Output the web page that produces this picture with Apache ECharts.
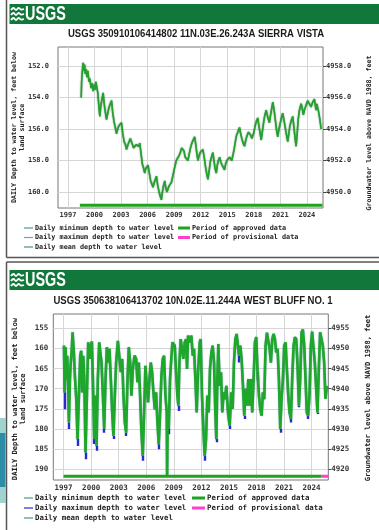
<!DOCTYPE html>
<html><head><meta charset="utf-8">
<script src="https://cdn.jsdelivr.net/npm/echarts@6/dist/echarts.min.js"></script>
<style>html,body{margin:0;padding:0;background:#fff}#c{width:379px;height:530px}</style>
</head><body><div id="c"></div><script>
// ---------------- DATA ----------------
const title1 = 'USGS 350910106414802 11N.03E.26.243A SIERRA VISTA';
const title2 = 'USGS 350638106413702 10N.02E.11.244A WEST BLUFF NO. 1';
const yearTicks = [1997, 2000, 2003, 2006, 2009, 2012, 2015, 2018, 2021, 2024];
const depthTicks1 = [152, 154, 156, 158, 160];
const elevTicks1 = [4950, 4952, 4954, 4956, 4958];
const depthTicks2 = [155, 160, 165, 170, 175, 180, 185, 190];
const elevTicks2 = [4920, 4925, 4930, 4935, 4940, 4945, 4950, 4955];
const landSurface = 5110;
const legendLeft = ['Daily minimum depth to water level', 'Daily maximum depth to water level', 'Daily mean depth to water level'];
const legendRight = ['Period of approved data', 'Period of provisional data'];
const leftTitle = ['DAILY Depth to water level, feet below', 'land surface'];
const rightTitle = 'Groundwater level above NAVD 1988, feet';

// Sierra Vista: daily mean depth (ft below land surface)
const years1 = [1998.50,1998.55,1998.62,1998.72,1998.80,1998.88,1998.96,1999.05,1999.15,1999.25,1999.38,1999.48,1999.62,1999.75,1999.85,1999.95,
2000.06,2000.16,2000.28,2000.38,2000.50,2000.61,2000.72,2000.85,2000.98,2001.10,2001.22,2001.36,2001.50,2001.65,2001.80,2001.93,
2002.05,2002.20,2002.35,2002.49,2002.62,2002.76,2002.90,2003.05,2003.20,2003.35,2003.50,2003.62,2003.78,2003.95,2004.05,2004.18,
2004.30,2004.42,2004.55,2004.70,2004.85,2005.00,2005.12,2005.25,2005.40,2005.55,2005.68,2005.80,2005.95,2006.05,2006.20,2006.35,
2006.50,2006.62,2006.75,2006.88,2007.00,2007.15,2007.30,2007.45,2007.56,2007.68,2007.80,2007.94,2008.05,2008.18,2008.31,2008.45,
2008.58,2008.69,2008.85,2009.00,2009.12,2009.25,2009.40,2009.55,2009.70,2009.85,2010.00,2010.12,2010.25,2010.40,2010.56,2010.70,
2010.85,2011.00,2011.15,2011.32,2011.45,2011.58,2011.69,2011.82,2011.95,2012.10,2012.25,2012.40,2012.55,2012.70,2012.82,2012.95,
2013.08,2013.22,2013.38,2013.50,2013.62,2013.76,2013.88,2014.00,2014.14,2014.28,2014.42,2014.56,2014.70,2014.83,2014.96,2015.10,
2015.26,2015.40,2015.52,2015.64,2015.78,2015.92,2016.05,2016.20,2016.39,2016.52,2016.65,2016.80,2016.95,2017.10,2017.25,2017.40,
2017.52,2017.65,2017.78,2017.89,2018.02,2018.15,2018.30,2018.45,2018.58,2018.72,2018.84,2018.96,2019.08,2019.22,2019.40,2019.52,
2019.65,2019.77,2019.90,2020.02,2020.15,2020.30,2020.45,2020.58,2020.71,2020.85,2021.00,2021.12,2021.27,2021.40,2021.55,2021.70,
2021.84,2021.96,2022.08,2022.22,2022.40,2022.52,2022.65,2022.78,2022.90,2023.02,2023.16,2023.35,2023.48,2023.60,2023.72,2023.90,
2024.09,2024.28,2024.47,2024.65,2024.85,2025.03,2025.12,2025.22,2025.32,2025.41,2025.52,2025.60];
const depth1 = [154.0,153.0,152.4,151.8,152.3,151.9,152.5,152.2,152.7,152.3,153.0,152.8,153.4,153.1,153.6,153.2,
153.5,153.0,153.4,153.7,154.6,155.2,154.5,154.1,153.7,154.4,154.9,155.4,155.0,154.6,154.5,154.2,
154.9,155.5,155.9,156.3,156.0,155.8,155.9,155.6,156.3,156.8,157.0,157.3,157.0,156.9,156.6,156.7,
157.0,157.2,157.3,157.0,156.9,157.1,156.9,157.5,158.2,158.5,158.8,158.5,158.5,158.3,158.8,159.3,
159.4,159.7,159.4,159.2,159.0,159.6,160.0,160.3,160.5,160.0,159.6,159.3,159.7,160.0,160.1,159.6,
159.5,159.4,159.0,158.6,158.3,158.0,158.1,157.7,157.5,157.2,157.1,157.4,157.8,157.9,158.0,157.6,
157.2,156.9,156.7,156.5,157.0,157.6,158.0,157.7,157.5,157.4,157.3,157.8,158.4,158.9,159.2,158.7,
158.1,157.8,157.5,158.0,158.5,158.8,158.3,158.0,157.8,158.1,158.3,158.4,158.6,158.2,158.0,157.9,
157.8,157.9,158.0,158.0,157.3,156.8,156.4,156.2,155.9,156.3,156.6,156.9,157.1,156.7,156.4,156.2,
156.1,156.4,156.6,156.7,156.2,155.8,155.5,155.3,155.8,156.3,156.7,156.2,155.7,155.2,154.8,155.1,
155.4,155.6,155.1,154.7,154.3,154.8,155.5,156.1,156.5,156.0,155.6,155.3,155.0,155.4,155.9,156.4,
156.8,156.3,155.8,155.5,155.2,155.8,156.5,157.1,156.3,155.4,154.8,154.4,154.7,155.1,154.8,154.5,
154.2,154.4,154.6,154.3,154.1,154.8,154.4,154.35,154.9,155.2,155.6,156.0];
const approved1 = [1998.35, 2025.75];

// West Bluff: daily mean depth (ft below land surface)
const years2 = [1997.04,1997.11,1997.22,1997.29,1997.40,1997.51,1997.58,1997.69,1997.76,1997.87,1997.98,1998.05,1998.12,1998.23,1998.38,1998.52,
1998.67,1998.81,1998.92,1999.03,1999.14,1999.25,1999.39,1999.54,1999.68,1999.83,1999.97,2000.08,2000.19,2000.33,2000.44,2000.59,
2000.73,2000.88,2001.02,2001.13,2001.28,2001.42,2001.57,2001.71,2001.86,2002.00,2002.14,2002.29,2002.43,2002.58,2002.72,2002.91,
2003.09,2003.23,2003.38,2003.52,2003.67,2003.81,2003.96,2004.10,2004.25,2004.39,2004.54,2004.72,2004.90,2005.04,2005.19,2005.33,
2005.48,2005.62,2005.77,2005.91,2006.06,2006.20,2006.35,2006.49,2006.64,2006.78,2006.93,2007.07,2007.22,2007.36,2007.51,2007.65,
2007.80,2007.94,2008.09,2008.23,2008.27,2008.34,2008.45,2008.59,2008.70,2008.85,2008.96,2009.10,2009.25,2009.39,2009.50,2009.61,
2009.75,2009.90,2010.04,2010.19,2010.33,2010.44,
2010.55,2010.73,2010.91,2011.06,2011.20,2011.35,2011.49,2011.64,2011.82,2011.93,2012.07,2012.22,2012.36,2012.51,2012.65,2012.80,
2012.94,2013.09,2013.23,2013.38,2013.52,2013.63,2013.74,2013.85,2013.99,2014.14,2014.28,2014.43,2014.57,2014.72,2014.90,2015.08,
2015.26,2015.41,2015.55,2015.70,2015.84,2015.98,2016.09,2016.24,2016.38,2016.53,2016.67,2016.82,2016.96,2017.11,2017.25,2017.40,
2017.54,2017.69,2017.83,2017.98,2018.12,2018.27,2018.41,2018.56,2018.70,2018.85,2018.99,2019.14,2019.28,2019.43,2019.57,2019.72,
2019.86,2020.01,2020.15,2020.30,2020.44,2020.59,2020.73,2020.88,2021.02,2021.17,2021.31,2021.46,2021.60,2021.75,2021.89,2022.04,
2022.18,2022.33,2022.47,2022.62,2022.76,2022.91,2023.05,2023.20,2023.34,2023.48,2023.63,2023.77,2023.92,2024.06,2024.21,2024.35,
2024.50,2024.64,2024.79,2024.93,2025.08,2025.22,2025.37,2025.51,2025.66];
const depth2 = [159.3,170.9,159.7,167.6,161.8,170.9,178.4,167.6,164.3,161.0,156.0,155.6,161.0,166.8,172.6,182.5,
171.7,161.8,160.6,170.9,161.8,167.6,185.8,171.7,158.5,162.6,159.3,158.3,167.6,182.5,171.7,184.2,
167.6,158.5,158.1,163.5,171.7,180.0,167.6,159.7,163.5,160.1,167.6,175.9,181.7,171.7,163.5,158.1,
158.5,165.9,162.6,171.7,178.4,180.9,167.6,159.7,163.5,171.7,165.1,161.8,162.6,168.4,163.5,171.7,
180.9,186.7,175.9,164.3,169.3,173.4,167.6,163.5,165.9,170.9,175.1,170.9,178.4,183.8,175.9,166.8,
162.6,161.8,171.7,175.9,191.6,175.9,180.0,167.6,163.5,158.5,158.1,159.3,165.9,171.7,174.2,163.5,
157.7,158.1,162.6,158.5,157.7,165.1,
156.8,158.5,156.8,161.8,160.1,167.6,175.9,165.9,158.5,157.7,171.7,180.0,186.7,182.5,171.7,175.9,
165.1,161.0,159.3,163.5,175.9,182.5,167.6,158.9,169.3,165.9,175.9,170.9,172.6,169.3,175.9,179.2,
170.9,175.0,163.5,157.7,156.4,156.8,161.8,159.3,162.6,169.3,176.7,170.0,174.2,167.6,174.2,167.6,
175.9,167.6,158.5,157.2,165.9,171.7,175.0,176.7,170.9,172.6,159.3,156.1,156.4,160.1,163.5,157.7,
156.4,157.7,161.0,160.1,167.6,180.0,172.6,167.6,159.3,158.5,165.1,171.7,175.9,177.5,167.6,159.3,
157.2,157.7,164.3,174.2,167.6,156.0,155.3,159.3,167.6,175.9,176.7,171.7,159.3,155.8,156.0,163.5,
170.0,175.9,165.1,156.0,155.6,159.3,163.5,172.5,169.3];
// West Bluff: daily maximum depth where it shows below the mean trace
const maxYears2 = [1997.11,1997.58,1998.52,1999.39,2000.33,2000.59,2001.42,2002.43,2003.81,2005.62,2007.36,2008.45,2009.50,
2012.36,2013.63,2015.08,2016.09,2016.67,2018.12,2020.59,2021.75,2022.62,2023.63,2024.64];
const maxMeanAt2 = [170.9,178.4,182.5,185.8,182.5,184.2,180.0,181.7,180.9,186.7,183.8,180.0,174.2,
186.7,182.5,179.2,161.8,176.7,165.9,180.0,177.5,174.2,176.7,175.9];
const maxDepth2 = [175.1,180.0,184.2,187.5,183.7,185.4,180.9,182.5,181.7,187.9,185.0,181.3,175.5,
187.9,183.3,180.0,163.5,177.5,168.0,180.9,178.4,174.6,177.5,176.3];
const approved2 = [1997.0, 2025.04];
const provisional2 = [2025.04, 2025.85];

// ---------------- STYLE / LAYOUT ----------------
const X_MIN = 1995.88, X_MAX = 2025.82;
const MONO = '"DejaVu Sans Mono", "Liberation Mono", monospace';
const SANS = '"Liberation Sans", Arial, sans-serif';
const HDR = '#12773b';
const C_MEAN = '#1fa02a', C_MAX = '#2a2ad0', C_MIN = '#4a9a8a';
const C_APP = '#1fa31f', C_PROV = '#ff40c8';

const P1 = {left: 58, top: 47, width: 265, height: 161, yMin: 150.79, yMax: 161.02, bar: 160.85};
const P2 = {left: 53.3, top: 314, width: 275, height: 166, yMin: 151.45, yMax: 192.65, bar: 191.75};

function xAxis(gi, fs) {
  return {type: 'value', gridIndex: gi, min: X_MIN, max: X_MAX,
    axisLine: {show: false}, axisTick: {show: false, customValues: yearTicks},
    axisLabel: {customValues: yearTicks, formatter: v => String(Math.round(v)), fontFamily: MONO, fontWeight: 'bold', fontSize: fs, color: '#333', margin: 4},
    splitLine: {show: true, lineStyle: {color: '#d6d6d6', width: 1}}};
}
function yLeft(gi, P, ticks, dec, fs, margin) {
  return {type: 'value', gridIndex: gi, position: 'left', inverse: true, min: P.yMin, max: P.yMax,
    axisLine: {show: false}, axisTick: {show: false, customValues: ticks},
    axisLabel: {customValues: ticks, formatter: v => v.toFixed(dec), fontFamily: MONO, fontWeight: 'bold', fontSize: fs, color: '#333', margin: margin},
    splitLine: {show: true, lineStyle: {color: '#d6d6d6', width: 1}}};
}
function yRight(gi, P, ticks, dec, fs) {
  return {type: 'value', gridIndex: gi, position: 'right', min: landSurface - P.yMax, max: landSurface - P.yMin,
    axisLine: {show: false}, axisTick: {show: true, length: 3, customValues: ticks, lineStyle: {color: '#444', width: 1}},
    axisLabel: {customValues: ticks, formatter: v => v.toFixed(dec), fontFamily: MONO, fontWeight: 'bold', fontSize: fs, color: '#333', margin: 3},
    splitLine: {show: false}};
}

const series = [
  {type: 'line', xAxisIndex: 0, yAxisIndex: 0, showSymbol: false, silent: true,
    data: years1.map((y, i) => [y, depth1[i]]),
    lineStyle: {color: '#22a22c', width: 1.6, shadowColor: 'rgba(0,70,20,0.7)', shadowBlur: 1.5}, z: 5},
  {type: 'line', xAxisIndex: 0, yAxisIndex: 0, showSymbol: false, silent: true,
    data: approved1.map(y => [y, P1.bar]), lineStyle: {color: C_APP, width: 3}, z: 6},
  {type: 'lines', coordinateSystem: 'cartesian2d', xAxisIndex: 1, yAxisIndex: 2, silent: true,
    data: maxYears2.map((y, i) => ({coords: [[y, maxMeanAt2[i]], [y, maxDepth2[i]]]})),
    lineStyle: {color: C_MAX, width: 2.4, opacity: 1}, z: 4},
  {type: 'line', xAxisIndex: 1, yAxisIndex: 2, showSymbol: false, silent: true,
    data: years2.map((y, i) => [y, depth2[i]]),
    lineStyle: {color: '#1ea82a', width: 2.6, shadowColor: 'rgba(0,70,120,0.55)', shadowBlur: 1.2}, z: 5},
  {type: 'line', xAxisIndex: 1, yAxisIndex: 2, showSymbol: false, silent: true,
    data: approved2.map(y => [y, P2.bar]), lineStyle: {color: C_APP, width: 3}, z: 6},
  {type: 'line', xAxisIndex: 1, yAxisIndex: 2, showSymbol: false, silent: true,
    data: provisional2.map(y => [y, P2.bar]), lineStyle: {color: C_PROV, width: 3}, z: 6}
];

// ---------------- GRAPHICS (frames, headers, titles, legends) ----------------
const g = [];
function line(x1, y1, x2, y2, color, w) {
  g.push({type: 'line', shape: {x1, y1, x2, y2}, style: {stroke: color, lineWidth: w}, silent: true, z: 1});
}
function text(x, y, t, font, opts) {
  g.push(Object.assign({type: 'text', x, y, silent: true, z: 10,
    style: Object.assign({text: t, font, fill: '#222', align: 'left', verticalAlign: 'middle'}, (opts && opts.style) || {})},
    opts && opts.el || {}));
}
function header(y0) {
  g.push({type: 'rect', shape: {x: 9.5, y: y0, width: 380, height: 20}, style: {fill: HDR}, silent: true, z: 2});
  for (let k = 0; k < 3; k++) {
    const yy = y0 + 5 + k * 5;
    g.push({type: 'polyline', shape: {points: [[11, yy + 1], [13.5, yy - 1], [16, yy + 1], [18.5, yy - 1], [21, yy + 0.5], [24, yy]], smooth: 0.4},
      style: {stroke: '#fff', lineWidth: 1.8, fill: null}, silent: true, z: 3});
  }
  text(25, y0 + 10.5, 'USGS', 'bold 20px ' + SANS, {style: {fill: '#fff'}, el: {scaleX: 0.72, z: 3}});
}
function legend(y0, dy, fs, c2x, c2w, colMax) {
  const cols = [C_MIN, colMax, '#3d9f6f'];
  legendLeft.forEach((t, i) => {
    line(24, y0 + i * dy, 33, y0 + i * dy, cols[i], 1.2);
    text(35, y0 + i * dy, t, 'bold ' + fs + 'px ' + MONO);
  });
  const cols2 = [C_APP, C_PROV];
  legendRight.forEach((t, i) => {
    g.push({type: 'line', shape: {x1: c2x, y1: y0 + i * dy, x2: c2x + c2w, y2: y0 + i * dy}, style: {stroke: cols2[i], lineWidth: 3}, silent: true, z: 5});
    text(c2x + c2w + 2, y0 + i * dy, t, 'bold ' + fs + 'px ' + MONO);
  });
}

// panel 1
line(6.5, 0, 6.5, 257.5, '#555', 1.5);
line(6.5, 257.5, 379, 257.5, '#555', 1.5);
header(4);
text(196, 33.5, title1, 'bold 11.5px ' + SANS, {style: {align: 'center', fill: '#1a1a1a'}, el: {scaleX: 0.83}});
text(14, 127.5, leftTitle[0], 'bold 6.6px ' + MONO, {style: {align: 'center'}, el: {rotation: Math.PI / 2}});
text(22, 127.5, leftTitle[1], 'bold 6.6px ' + MONO, {style: {align: 'center'}, el: {rotation: Math.PI / 2}});
text(369, 133, rightTitle, 'bold 6.6px ' + MONO, {style: {align: 'center'}, el: {rotation: Math.PI / 2}});
legend(228, 9.5, 6.8, 178, 12, '#8e8ed8');

// panel 2
line(6.5, 262, 379, 262, '#555', 1.5);
line(6.5, 262, 6.5, 530, '#555', 1.5);
g.push({type: 'rect', shape: {x: 0, y: 418, width: 5.5, height: 15}, style: {fill: '#9fd3cf'}, silent: true});
g.push({type: 'rect', shape: {x: 0, y: 433, width: 5.5, height: 54}, style: {fill: '#2b8ea6'}, silent: true});
g.push({type: 'rect', shape: {x: 0, y: 487, width: 5.5, height: 16}, style: {fill: '#9fd3cf'}, silent: true});
header(270);
text(193, 301, title2, 'bold 11.5px ' + SANS, {style: {align: 'center', fill: '#1a1a1a'}, el: {scaleX: 0.83}});
text(15, 399, leftTitle[0], 'bold 7.1px ' + MONO, {style: {align: 'center'}, el: {rotation: Math.PI / 2}});
text(23.5, 399, leftTitle[1], 'bold 7.1px ' + MONO, {style: {align: 'center'}, el: {rotation: Math.PI / 2}});
text(368.5, 398, rightTitle, 'bold 7.1px ' + MONO, {style: {align: 'center'}, el: {rotation: Math.PI / 2}});
legend(498, 10, 7.4, 192, 13, C_MAX);

const chart = echarts.init(document.getElementById('c'), null, {renderer: 'canvas'});
chart.setOption({
  animation: false,
  backgroundColor: '#fff',
  grid: [
    {left: P1.left, top: P1.top, width: P1.width, height: P1.height, show: true, borderColor: '#777', borderWidth: 1, backgroundColor: '#fff', containLabel: false},
    {left: P2.left, top: P2.top, width: P2.width, height: P2.height, show: true, borderColor: '#777', borderWidth: 1, backgroundColor: '#fff', containLabel: false}
  ],
  xAxis: [xAxis(0, 7), xAxis(1, 7.5)],
  yAxis: [yLeft(0, P1, depthTicks1, 1, 7, 9), yRight(0, P1, elevTicks1, 1, 7),
          yLeft(1, P2, depthTicks2, 0, 7.5, 5), yRight(1, P2, elevTicks2, 0, 7.5)],
  series: series,
  graphic: g
});
</script></body></html>
